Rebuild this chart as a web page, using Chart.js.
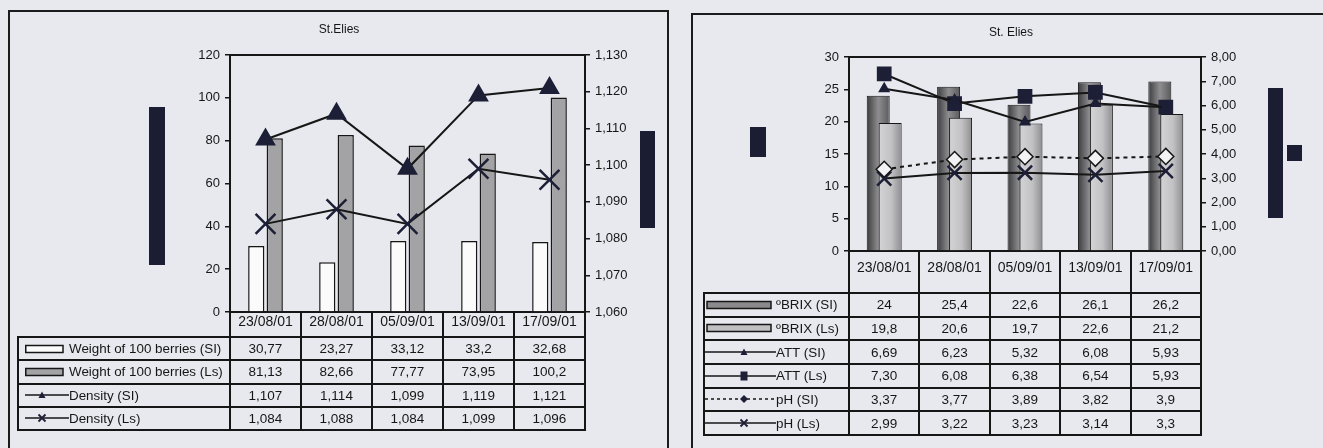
<!DOCTYPE html>
<html>
<head>
<meta charset="utf-8">
<title>St. Elies – ripening</title>
<script src="https://cdn.jsdelivr.net/npm/chart.js@4.4.1/dist/chart.umd.min.js"></script>
<style>
  html, body { margin: 0; padding: 0; background: #e8e9ee; }
  body {
    width: 1323px; height: 448px; position: relative; overflow: hidden;
    font-family: "Liberation Sans", Arial, sans-serif; color: #161616;
  }
  .panel { position: absolute; border: 2px solid #1c1c1c; box-sizing: border-box; }
  #panelA { left: 8px; top: 10px; width: 661px; height: 470px; }
  #panelB { left: 691px; top: 13px; width: 700px; height: 470px; }
  canvas { position: absolute; top: 0; }
  #chartA { left: 0; }
  #chartB { left: 700px; }
  .block { position: absolute; background: #1b1e33; }
  .tbl {
    position: absolute; display: grid;
    border-left: 2px solid #161616; border-top: 2px solid #161616;
  }
  .cell {
    box-sizing: border-box;
    border-right: 2px solid #161616; border-bottom: 2px solid #161616;
    display: flex; align-items: center; justify-content: center;
    font-size: 13.5px; white-space: nowrap; overflow: hidden;
  }
  .cell.label { justify-content: flex-start; font-size: 13.4px; }
  .cell.label svg { flex: none; display: block; }
</style>
</head>
<body>
<div class="panel" id="panelA"></div>
<div class="panel" id="panelB"></div>

<canvas id="chartA" width="678" height="448"></canvas>
<canvas id="chartB" width="622" height="448"></canvas>

<!-- blacked-out axis captions -->
<div class="block" style="left:149px;top:107px;width:16px;height:158px"></div>
<div class="block" style="left:640px;top:131px;width:15px;height:97px"></div>
<div class="block" style="left:750px;top:127px;width:16px;height:30px"></div>
<div class="block" style="left:1268px;top:88px;width:15px;height:130px"></div>
<div class="block" style="left:1287px;top:145px;width:15px;height:16px"></div>

<script>
// Sampling dates
const dates = ['23/08/01', '28/08/01', '05/09/01', '13/09/01', '17/09/01'];

// Berry weight (g / 100 berries) and must density
const weightSl  = [30.77, 23.27, 33.12, 33.2, 32.68];
const weightLs  = [81.13, 82.66, 77.77, 73.95, 100.2];
const densitySl = [1.107, 1.114, 1.099, 1.119, 1.121];
const densityLs = [1.084, 1.088, 1.084, 1.099, 1.096];

// Sugar, titratable acidity and pH
const brixSl = [24, 25.4, 22.6, 26.1, 26.2];
const brixLs = [19.8, 20.6, 19.7, 22.6, 21.2];
const attSl  = [6.69, 6.23, 5.32, 6.08, 5.93];
const attLs  = [7.30, 6.08, 6.38, 6.54, 5.93];
const phSl   = [3.37, 3.77, 3.89, 3.82, 3.9];
const phLs   = [2.99, 3.22, 3.23, 3.14, 3.3];

// Axis ranges
const weightAxis  = { min: 0, max: 120, step: 20 };
const densityAxis = { min: 1.06, max: 1.13, step: 0.01 };
const brixAxis    = { min: 0, max: 30, step: 5 };
const acidAxis    = { min: 0, max: 8, step: 1 };

const INK = '#161616';
const MARK = '#1c1f36';
const comma = (v, d) => (d === undefined ? String(v) : v.toFixed(d)).replace('.', ',');

Chart.defaults.font.family = '"Liberation Sans", Arial, sans-serif';
Chart.defaults.color = INK;

// Horizontal shading of the Brix columns
const barShading = {
  id: 'barShading',
  afterDatasetsUpdate(chart) {
    chart.data.datasets.forEach((ds, i) => {
      if (!ds.shade) return;
      chart.getDatasetMeta(i).data.forEach(bar => {
        const g = chart.ctx.createLinearGradient(bar.x - bar.width / 2, 0, bar.x + bar.width / 2, 0);
        ds.shade.forEach(([p, c]) => g.addColorStop(p, c));
        bar.options = Object.assign({}, bar.options, { backgroundColor: g });
      });
    });
  }
};

// Datasets flagged `behind` are painted first, under every other dataset
const paintBehind = {
  id: 'paintBehind',
  beforeDatasetsDraw(chart) {
    chart.getSortedVisibleDatasetMetas()
      .filter(m => chart.data.datasets[m.index].behind)
      .forEach(m => m.controller.draw());
  },
  beforeDatasetDraw(chart, args) {
    if (chart.data.datasets[args.index].behind) return false;
  }
};

// Category axis drawn as the header row of the data table
function headerAxis(rowHeight, labelPad) {
  return {
    type: 'category', position: 'bottom',
    grid: { offset: true, drawOnChartArea: false, tickLength: rowHeight, color: INK, lineWidth: 2 },
    border: { color: INK, width: 2 },
    ticks: { padding: labelPad, font: { size: 14 }, color: INK, maxRotation: 0, autoSkip: false },
    afterFit: s => { s.height = rowHeight; }
  };
}
// Top edge of the plot frame
const frameTop = {
  type: 'category', position: 'top',
  grid: { drawOnChartArea: false, drawTicks: false },
  ticks: { display: false },
  border: { color: INK, width: 2 }
};
function valueAxis(pos, r, width, fmt) {
  return {
    position: pos, min: r.min, max: r.max,
    grid: { drawOnChartArea: false, tickLength: 5, color: INK, lineWidth: 1.5 },
    border: { color: INK, width: 2 },
    ticks: { stepSize: r.step, padding: 5, font: { size: 13 }, color: INK, callback: fmt },
    afterFit: s => { s.width = width; }
  };
}
const baseOptions = {
  responsive: false, animation: false, devicePixelRatio: 1,
  plugins: { legend: { display: false }, tooltip: { enabled: false } }
};
const titleOpts = (text, top, bottom) => ({
  display: true, text, color: INK, font: { size: 12, weight: 'normal' }, padding: { top, bottom }
});

const line = (label, data, extra) => Object.assign({
  type: 'line', label, data, yAxisID: 'y2', order: 0,
  borderColor: INK, borderWidth: 2, tension: 0, fill: false,
  pointBackgroundColor: MARK, pointBorderColor: MARK
}, extra);

// ---- Weight & density ----
const chartA = new Chart(document.getElementById('chartA'), {
  type: 'bar',
  data: {
    labels: dates,
    datasets: [
      { label: 'Weight of 100 berries (SI)', data: weightSl, yAxisID: 'y', order: 1,
        backgroundColor: '#fbfbfb', borderColor: INK, borderWidth: 1.5,
        categoryPercentage: 0.52, barPercentage: 0.88 },
      { label: 'Weight of 100 berries (Ls)', data: weightLs, yAxisID: 'y', order: 1,
        backgroundColor: '#a3a3a6', borderColor: INK, borderWidth: 1.5,
        categoryPercentage: 0.52, barPercentage: 0.88 },
      line('Density (SI)', densitySl, { pointStyle: 'triangle', pointRadius: 10 }),
      line('Density (Ls)', densityLs, { pointStyle: 'crossRot', pointRadius: 14, pointBorderWidth: 2.5 })
    ]
  },
  options: Object.assign({}, baseOptions, {
    layout: { padding: { left: 50, right: 50, top: 0, bottom: 111 } },
    plugins: Object.assign({}, baseOptions.plugins, { title: titleOpts('St.Elies', 22, 18.6) }),
    scales: {
      x: headerAxis(25, -23),
      xTop: frameTop,
      y: valueAxis('left', weightAxis, 180, v => comma(v)),
      y2: valueAxis('right', densityAxis, 43, v => comma(v, 3))
    }
  })
});

// ---- Brix, acidity & pH ----
// The two Brix columns of a date overlap; the Ls column sits in front.
const brixColumn = { categoryPercentage: 0.34, barPercentage: 1.92, borderColor: INK, borderWidth: 1, yAxisID: 'y', order: 1 };
const chartB = new Chart(document.getElementById('chartB'), {
  type: 'bar',
  plugins: [barShading, paintBehind],
  data: {
    labels: dates,
    datasets: [
      Object.assign({ label: 'ºBRIX (SI)', data: brixSl, backgroundColor: '#707072', behind: true,
        shade: [[0, '#3c3c3e'], [0.5, '#8e8e90'], [1, '#5a5a5c']] }, brixColumn),
      Object.assign({ label: 'ºBRIX (Ls)', data: brixLs, backgroundColor: '#c4c4c6',
        shade: [[0, '#d4d4d6'], [0.55, '#c2c2c4'], [1, '#8e8e90']] }, brixColumn),
      line('ATT (SI)', attSl, { pointStyle: 'triangle', pointRadius: 5 }),
      line('ATT (Ls)', attLs, { pointStyle: 'rect', pointRadius: 9 }),
      line('pH (SI)', phSl, { borderDash: [4, 4], pointStyle: 'rectRot', pointRadius: 8,
        pointBackgroundColor: '#f2f2f4', pointBorderColor: INK, pointBorderWidth: 1.5 }),
      line('pH (Ls)', phLs, { pointStyle: 'crossRot', pointRadius: 10, pointBorderWidth: 2.5 })
    ]
  },
  options: Object.assign({}, baseOptions, {
    layout: { padding: { left: 71, right: 71, top: 0, bottom: 155 } },
    plugins: Object.assign({}, baseOptions.plugins, { title: titleOpts('St. Elies', 25, 17.6) }),
    scales: {
      x: headerAxis(42, -33),
      xTop: frameTop,
      y: valueAxis('left', brixAxis, 78, v => comma(v)),
      y2: valueAxis('right', acidAxis, 50, v => comma(v, 2))
    }
  })
});

// ---- Data tables under each chart ----
function marker(kind, x, y) {
  switch (kind) {
    case 'triangle': return `<polygon points="${x - 3.5},${y + 3} ${x + 3.5},${y + 3} ${x},${y - 3.5}" fill="${MARK}"/>`;
    case 'cross': return `<path d="M${x - 3.5} ${y - 3.5}L${x + 3.5} ${y + 3.5}M${x + 3.5} ${y - 3.5}L${x - 3.5} ${y + 3.5}" stroke="${MARK}" stroke-width="1.8"/>`;
    case 'square': return `<rect x="${x - 3.5}" y="${y - 4.5}" width="7" height="9" fill="${MARK}"/>`;
    case 'diamond': return `<polygon points="${x},${y - 4} ${x + 4},${y} ${x},${y + 4} ${x - 4},${y}" fill="${MARK}"/>`;
  }
  return '';
}
function glyph(row, g) {
  let s = `<svg width="${g.w}" height="14" viewBox="0 0 ${g.w} 14">`;
  if (row.fill) {
    s += `<rect x="${g.rect[0]}" y="3.5" width="${g.rect[1] - g.rect[0]}" height="7" fill="${row.fill}" stroke="${INK}" stroke-width="1.5"/>`;
  } else {
    s += `<line x1="0" y1="7" x2="${g.w}" y2="7" stroke="${INK}" stroke-width="1.5"${row.dash ? ` stroke-dasharray="${row.dash}"` : ''}/>`;
    s += marker(row.marker, g.mx, 7);
  }
  return s + '</svg>';
}
function placeTable(chart, rows, opt) {
  const ox = chart.canvas.offsetLeft, oy = chart.canvas.offsetTop;
  const area = chart.chartArea;
  const left = ox + area.left, right = ox + area.right;
  const n = chart.data.labels.length;
  const top = oy + chart.scales.x.bottom;
  const tbl = document.createElement('div');
  tbl.className = 'tbl';
  tbl.style.left = (opt.left - 1) + 'px';
  tbl.style.top = (top - 1) + 'px';
  tbl.style.gridTemplateColumns = `${left - opt.left}px repeat(${n}, ${(right - left) / n}px)`;
  tbl.style.gridAutoRows = opt.rowH + 'px';
  rows.forEach(r => {
    const lab = document.createElement('div');
    lab.className = 'cell label';
    lab.style.paddingLeft = opt.pad + 'px';
    lab.innerHTML = glyph(r, opt.glyph) + `<span>${r.label}</span>`;
    tbl.appendChild(lab);
    r.values.forEach(v => {
      const c = document.createElement('div');
      c.className = 'cell';
      c.textContent = r.fmt(v);
      tbl.appendChild(c);
    });
  });
  document.body.appendChild(tbl);
}

placeTable(chartA, [
  { label: 'Weight of 100 berries (SI)', values: weightSl, fmt: v => comma(v), fill: '#fbfbfb' },
  { label: 'Weight of 100 berries (Ls)', values: weightLs, fmt: v => comma(v), fill: '#a3a3a6' },
  { label: 'Density (SI)', values: densitySl, fmt: v => comma(v, 3), marker: 'triangle' },
  { label: 'Density (Ls)', values: densityLs, fmt: v => comma(v, 3), marker: 'cross' }
], { left: 18, rowH: 23.25, pad: 6, glyph: { w: 44, rect: [0.75, 38], mx: 17 } });

placeTable(chartB, [
  { label: 'ºBRIX (SI)', values: brixSl, fmt: v => comma(v), fill: '#8a8a8c' },
  { label: 'ºBRIX (Ls)', values: brixLs, fmt: v => comma(v), fill: '#c0c0c2' },
  { label: 'ATT (SI)', values: attSl, fmt: v => comma(v, 2), marker: 'triangle' },
  { label: 'ATT (Ls)', values: attLs, fmt: v => comma(v, 2), marker: 'square' },
  { label: 'pH (SI)', values: phSl, fmt: v => comma(v), marker: 'diamond', dash: '3 3' },
  { label: 'pH (Ls)', values: phLs, fmt: v => comma(v), marker: 'cross' }
], { left: 704, rowH: 23.67, pad: 0, glyph: { w: 71, rect: [2, 66], mx: 39 } });
</script>
</body>
</html>
